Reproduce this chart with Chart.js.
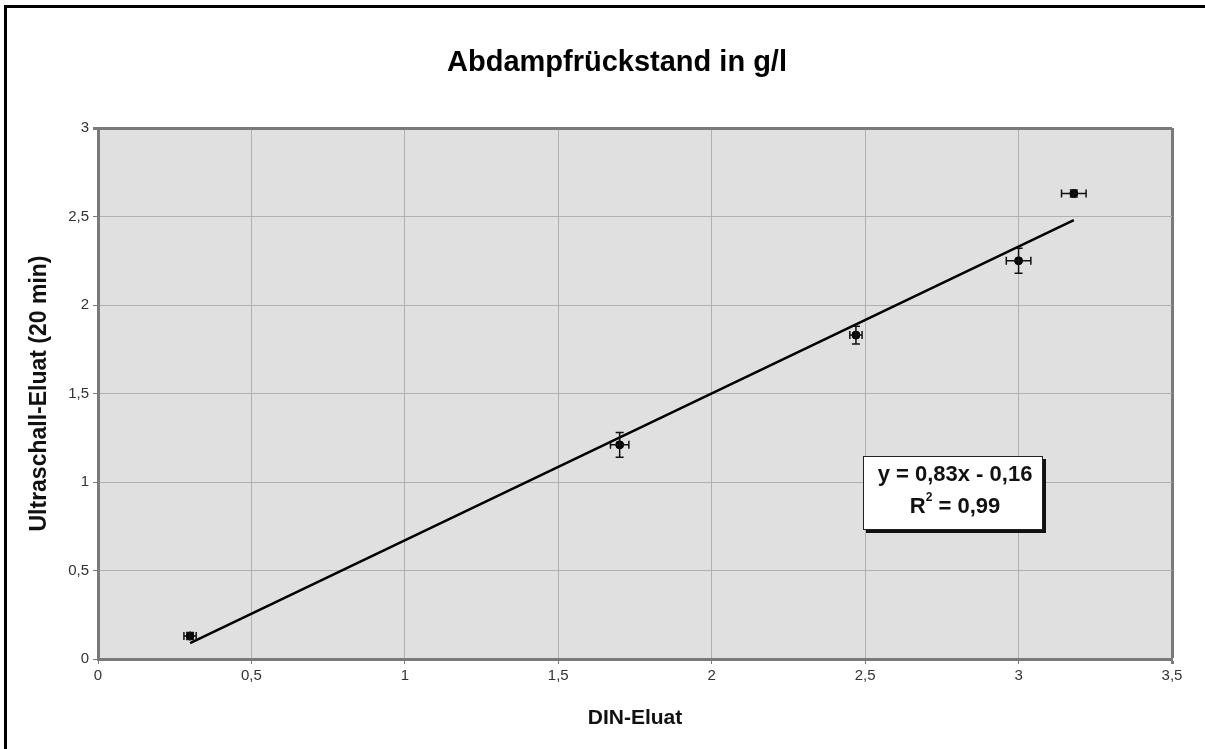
<!DOCTYPE html>
<html>
<head>
<meta charset="utf-8">
<title>Abdampfrückstand in g/l</title>
<script src="https://cdn.jsdelivr.net/npm/chart.js@4/dist/chart.umd.min.js"></script>
<style>
  html, body { margin: 0; padding: 0; background: #fff; }
  #wrap { width: 1205px; height: 749px; position: relative; }
</style>
</head>
<body>
<div id="wrap"><canvas id="myChart"></canvas></div>
<script>
// Werte
const dinEluat = [0.30, 1.70, 2.47, 3.00, 3.18];
const ultraschallEluat = [0.13, 1.21, 1.83, 2.25, 2.63];
const xFehler = [0.02, 0.03, 0.02, 0.04, 0.04];
const yFehler = [0.02, 0.07, 0.05, 0.07, 0.02];

// Trendlinie laut Beschriftung
const steigung = 0.83;
const achsenabschnitt = -0.16;
const gleichungText = "y = 0,83x - 0,16";
const bestimmtheit = "0,99";

const xTicks = [0, 0.5, 1, 1.5, 2, 2.5, 3, 3.5];
const yTicks = [0, 0.5, 1, 1.5, 2, 2.5, 3];

const FONT = "'Liberation Sans', Arial, sans-serif";

const punkte = dinEluat.map((x, i) => ({ x: x, y: ultraschallEluat[i] }));
const xMin = Math.min(...dinEluat);
const xMax = Math.max(...dinEluat);
const trend = [xMin, xMax].map(x => ({ x: x, y: steigung * x + achsenabschnitt }));

const komma = v => String(v).replace(".", ",");

const plotPlugin = {
  id: "plotDeko",
  beforeDraw(chart) {
    const { ctx, chartArea: a } = chart;
    ctx.save();
    ctx.fillStyle = "#e0e0e0";
    ctx.fillRect(a.left, a.top, a.right - a.left, a.bottom - a.top);
    ctx.restore();
  },
  afterDatasetsDraw(chart) {
    const { ctx } = chart;
    const xs = chart.scales.x, ys = chart.scales.y;
    ctx.save();
    ctx.strokeStyle = "#111";
    ctx.lineWidth = 1.5;
    const cap = 4;
    dinEluat.forEach((x, i) => {
      const px = xs.getPixelForValue(x);
      const py = ys.getPixelForValue(ultraschallEluat[i]);
      const x1 = xs.getPixelForValue(x - xFehler[i]);
      const x2 = xs.getPixelForValue(x + xFehler[i]);
      const y1 = ys.getPixelForValue(ultraschallEluat[i] - yFehler[i]);
      const y2 = ys.getPixelForValue(ultraschallEluat[i] + yFehler[i]);
      ctx.beginPath();
      ctx.moveTo(x1, py); ctx.lineTo(x2, py);
      ctx.moveTo(x1, py - cap); ctx.lineTo(x1, py + cap);
      ctx.moveTo(x2, py - cap); ctx.lineTo(x2, py + cap);
      ctx.moveTo(px, y1); ctx.lineTo(px, y2);
      ctx.moveTo(px - cap, y1); ctx.lineTo(px + cap, y1);
      ctx.moveTo(px - cap, y2); ctx.lineTo(px + cap, y2);
      ctx.stroke();
    });
    ctx.restore();
  },
  afterDraw(chart) {
    const { ctx, chartArea: a } = chart;
    ctx.save();
    // Rahmen oben und links
    ctx.strokeStyle = "#000";
    ctx.lineWidth = 3;
    ctx.beginPath();
    ctx.moveTo(5.5, 749);
    ctx.lineTo(5.5, 6.5);
    ctx.lineTo(1205, 6.5);
    ctx.stroke();

    // Titel
    ctx.fillStyle = "#000";
    ctx.font = "bold 29px " + FONT;
    ctx.textAlign = "center";
    ctx.textBaseline = "middle";
    ctx.fillText("Abdampfrückstand in g/l", 617, 63);

    // Gleichungsbox
    const bx = a.left + 765, by = 456, bw = 180, bh = 74;
    ctx.fillStyle = "#111";
    ctx.fillRect(bx + 3, by + 3, bw, bh);
    ctx.fillStyle = "#fff";
    ctx.fillRect(bx, by, bw, bh);
    ctx.strokeStyle = "#222";
    ctx.lineWidth = 1;
    ctx.strokeRect(bx + 0.5, by + 0.5, bw - 1, bh - 1);

    ctx.fillStyle = "#111";
    ctx.font = "bold 22px " + FONT;
    ctx.textAlign = "center";
    ctx.fillText(gleichungText, bx + bw / 2 + 2, by + 19);

    const rTeil = "R";
    const rest = " = " + bestimmtheit;
    const wR = ctx.measureText(rTeil).width;
    const wRest = ctx.measureText(rest).width;
    ctx.font = "bold 12px " + FONT;
    const wSup = ctx.measureText("2").width;
    const start = bx + bw / 2 + 2 - (wR + wSup + wRest) / 2;
    const ty = by + 51;
    ctx.textAlign = "left";
    ctx.font = "bold 22px " + FONT;
    ctx.fillText(rTeil, start, ty);
    ctx.font = "bold 12px " + FONT;
    ctx.fillText("2", start + wR, ty - 9);
    ctx.font = "bold 22px " + FONT;
    ctx.fillText(rest, start + wR + wSup, ty);
    ctx.restore();
  }
};

const gridFarbe = (ctx, max) => (ctx.tick && ctx.tick.value === max ? "#7a7a7a" : "#b0b0b0");
const gridBreite = (ctx, max) => (ctx.tick && ctx.tick.value === max ? 3 : 1);

new Chart(document.getElementById("myChart"), {
  type: "scatter",
  data: {
    datasets: [
      {
        label: "Messwerte",
        data: punkte,
        backgroundColor: "#000",
        borderColor: "#000",
        pointRadius: 4,
        pointHoverRadius: 4,
        order: 1
      },
      {
        type: "line",
        label: "Trend",
        data: trend,
        borderColor: "#000",
        borderWidth: 2.5,
        pointRadius: 0,
        fill: false,
        order: 2
      }
    ]
  },
  options: {
    responsive: true,
    maintainAspectRatio: false,
    animation: false,
    layout: { padding: { left: 26, right: 33, top: 128, bottom: 18 } },
    plugins: {
      legend: { display: false },
      tooltip: { enabled: false }
    },
    scales: {
      x: {
        type: "linear",
        min: 0,
        max: 3.5,
        afterBuildTicks: s => { s.ticks = xTicks.map(v => ({ value: v })); },
        afterFit: s => { s.height = 72; },
        grid: {
          color: c => gridFarbe(c, 3.5),
          lineWidth: c => gridBreite(c, 3.5),
          tickColor: "#7a7a7a",
          tickLength: 5
        },
        border: { color: "#7a7a7a", width: 3 },
        ticks: {
          color: "#333",
          font: { family: FONT, size: 15 },
          padding: 3,
          maxRotation: 0,
          callback: v => komma(v)
        },
        title: {
          display: true,
          text: "DIN-Eluat",
          color: "#111",
          font: { family: FONT, size: 21, weight: "bold" },
          padding: 0
        }
      },
      y: {
        type: "linear",
        min: 0,
        max: 3,
        afterBuildTicks: s => { s.ticks = yTicks.map(v => ({ value: v })); },
        afterFit: s => { s.width = 72; },
        grid: {
          color: c => gridFarbe(c, 3),
          lineWidth: c => gridBreite(c, 3),
          tickColor: "#7a7a7a",
          tickLength: 5
        },
        border: { color: "#7a7a7a", width: 3 },
        ticks: {
          color: "#333",
          font: { family: FONT, size: 15 },
          padding: 4,
          callback: v => komma(v)
        },
        title: {
          display: true,
          text: "Ultraschall-Eluat (20 min)",
          color: "#111",
          font: { family: FONT, size: 23, weight: "bold" },
          padding: 0
        }
      }
    }
  },
  plugins: [plotPlugin]
});
</script>
</body>
</html>
